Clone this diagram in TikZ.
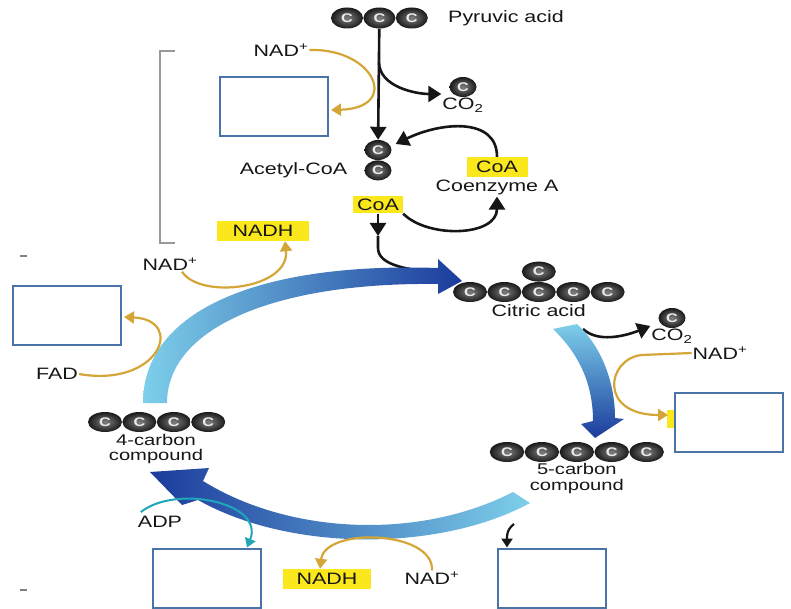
\documentclass[tikz,border=0pt]{standalone}
\usepackage{fontspec}
\setmainfont{Liberation Sans}[FakeStretch=1.3]
\usetikzlibrary{positioning,shapes.geometric,arrows.meta}

\definecolor{cgold}{HTML}{D4A537}
\definecolor{cteal}{HTML}{20A6B8}
\definecolor{cbox}{HTML}{4A74A8}
\definecolor{chl}{HTML}{FAE81C}
\definecolor{clight}{HTML}{7DCFEA}
\definecolor{cdark}{HTML}{1B3B9C}
\definecolor{cink}{HTML}{161616}

\tikzset{
  carbon/.style={ellipse, minimum width=32pt, minimum height=21pt, inner sep=0pt,
    inner color=black!50, outer color=black!90, text=white!92!black,
    font=\bfseries\fontsize{12.5}{12}\selectfont},
  smallcarbon/.style={carbon, minimum width=27pt, minimum height=20pt},
  lbl/.style={text=cink, font=\fontsize{16.5}{14}\selectfont, inner sep=1pt},
  twoline/.style={lbl, align=center, font=\fontsize{15.5}{15.5}\selectfont},
  hl/.style={lbl, fill=chl, minimum height=20pt, inner sep=2pt},
  blank/.style={draw=cbox, line width=2pt, fill=white, minimum width=108pt, minimum height=59pt},
  flow/.style={cink, line width=2.6pt, -{Triangle[length=13pt,width=16pt]}},
  gold/.style={cgold, line width=2.2pt, -{Triangle[length=10pt,width=12pt]}},
}

\begin{document}
\begin{tikzpicture}[x=1pt, y=-1pt]
\useasboundingbox (0,0) rectangle (791,609);

% pyruvic acid -> acetyl-CoA
\node[carbon] (pyr1) at (347,18) {C};
\node[carbon, right=0pt of pyr1] (pyr2) {C};
\node[carbon, right=0pt of pyr2] (pyr3) {C};
\node[lbl, right=19pt of pyr3] (pyr) {Pyruvic acid};
\node[smallcarbon] (co2a) at (463,87) {C};
\node[lbl, below=0pt of co2a] (co2al) {CO\textsubscript{2}};
\node[smallcarbon] (ace1) at (378,150) {C};
\node[smallcarbon, below=0pt of ace1] (ace2) {C};
\node[lbl, left=16pt of ace2] (ace) {Acetyl-CoA};
\node[hl, minimum width=50pt, minimum height=17pt] (coa1) at (378,205) {CoA};
\node[hl, minimum width=61pt] (coa2) at (497,167) {CoA};
\node[lbl, below=2pt of coa2] (coenz) {Coenzyme A};
\node[lbl] (nadA) at (281,50) {NAD\textsuperscript{+}};
\node[blank] (boxA) at (274,107) {};
\coordinate (brk) at (379,62);

% citric acid
\node[carbon, minimum width=34pt, minimum height=20pt] (cit1) at (470,292) {C};
\foreach \i [count=\j from 2] in {1,...,4}
  \node[carbon, minimum width=34pt, minimum height=20pt, right=0pt of cit\i] (cit\j) {C};
\node[carbon, minimum width=34pt, minimum height=20pt, above=0pt of cit3] (cit6) {C};
\node[lbl, below=1pt of cit3] (cit) {Citric acid};
\node[smallcarbon] (co2b) at (672,318) {C};
\node[lbl, below=0pt of co2b] (co2bl) {CO\textsubscript{2}};
\coordinate (cbr) at (583,329);
\node[lbl] (nadC) at (720,353) {NAD\textsuperscript{+}};
\fill[chl] (667,410) rectangle (690,428);
\node[blank] (boxC) at (729,422) {};

% 5-carbon compound
\node[carbon, minimum width=34.5pt, minimum height=20pt] (cfive1) at (507,452) {C};
\foreach \i [count=\j from 2] in {1,...,4}
  \node[carbon, minimum width=34.5pt, minimum height=20pt, right=0pt of cfive\i] (cfive\j) {C};
\node[twoline, below=0pt of cfive3] (cfive) {5-carbon\\compound};

% 4-carbon compound
\node[carbon, minimum width=34pt, minimum height=20pt] (cfour1) at (105,422) {C};
\foreach \i [count=\j from 2] in {1,...,3}
  \node[carbon, minimum width=34pt, minimum height=20pt, right=0pt of cfour\i] (cfour\j) {C};
\node[twoline] (cfour) at (156,449) {4-carbon\\compound};
\node[lbl] (fad) at (57,374) {FAD};
\node[blank] (boxB) at (67,315) {};
\node[lbl] (nadB) at (170,264) {NAD\textsuperscript{+}};
\node[hl, minimum width=92pt] (nadhA) at (263,231) {NADH};

% bottom
\node[lbl] (adp) at (160,522) {ADP};
\node[blank] (boxD) at (207,578) {};
\node[hl, minimum width=88pt] (nadhB) at (327,579) {NADH};
\node[lbl] (nadD) at (432,578) {NAD\textsuperscript{+}};
\node[blank] (boxE) at (552,578) {};
\coordinate (cbr2) at (514,524);

% black arrows
\draw[flow] (pyr2) -- (ace1);
\draw[flow] (brk) .. controls +(0,25) and +(-25,0) .. ([shift={(-8pt,-7pt)}]co2a.west);
\draw[flow] (coa2.north) .. controls +(0,-40) and +(45,-22) .. ([shift={(4pt,6pt)}]ace1.east);
\draw[flow] (coa1.south east) .. controls +(25,25) and +(0,40) .. (coenz.south);
\coordinate (mid) at (378,236);
\coordinate (join) at (440,273);
\draw[flow] (coa1) -- (mid);
\draw[cink, line width=2.6pt] (mid) -- ++(0,12) .. controls +(0,18) and +(-30,-3) .. (join);
\draw[flow] (cbr) .. controls +(15,14) and +(-25,10) .. ([shift={(-8pt,-8pt)}]co2b.west);
\draw[cink, line width=2.2pt, -{Triangle[length=9pt,width=11pt]}]
  (cbr2) .. controls +(-8,6) and +(0,-10) .. ([xshift=-45pt]boxE.north);

% cycle
\shade[left color=clight, right color=cdark]
  (143,403) .. controls (143,310) and (260,262) .. (438,268) -- (438,259) -- (462,281)
  -- (438,294) -- (438,284) .. controls (270,282) and (167,330) .. (167,403) -- cycle;
\shade[top color=clight, bottom color=cdark]
  (553,329) -- (577,324) .. controls (600,345) and (615,380) .. (615,418) -- (624,419)
  -- (595,438) -- (581,424) -- (593,421) .. controls (593,385) and (580,355) .. (553,329) -- cycle;
\shade[left color=cdark, right color=clight]
  (530,503) .. controls (440,552) and (290,552) .. (198,500) -- (182,505) -- (150,472)
  -- (209,468) -- (203,481) .. controls (290,535) and (420,540) .. (513,492) -- cycle;

% coenzymes
\draw[gold] (nadA.east) .. controls +(65,-2) and +(70,-2) .. ([shift={(2pt,-3pt)}]boxA.east);
\draw[gold] ([xshift=12pt]nadB.south) .. controls +(18,28) and +(5,48) .. ([xshift=22pt]nadhA.south);
\draw[gold] (fad.east) .. controls +(80,14) and +(62,3) .. ([shift={(2pt,-2pt)}]boxB.east);
\draw[gold] (nadC.west) -- +(-50,2) .. controls +(-35,4) and +(-70,0) .. ([shift={(-6pt,7pt)}]boxC.west);
\draw[gold] (nadD.north) .. controls +(2,-40) and +(5,-42) .. ([xshift=-7pt]nadhB.north);
\draw[cteal, line width=2pt, -{Triangle[length=9pt,width=11pt]}]
  ([shift={(4pt,3pt)}]adp.north west) .. controls +(35,-28) and +(18,-45) .. ([xshift=40pt]boxD.north);

\draw[gray!80, line width=1.3pt] (175,51) -- (160,51) -- (160,243) -- (175,243);
\draw[gray, line width=1.5pt] (20,256) -- (27,256);
\draw[gray, line width=1.5pt] (20,590) -- (27,590);
\end{tikzpicture}
\end{document}
